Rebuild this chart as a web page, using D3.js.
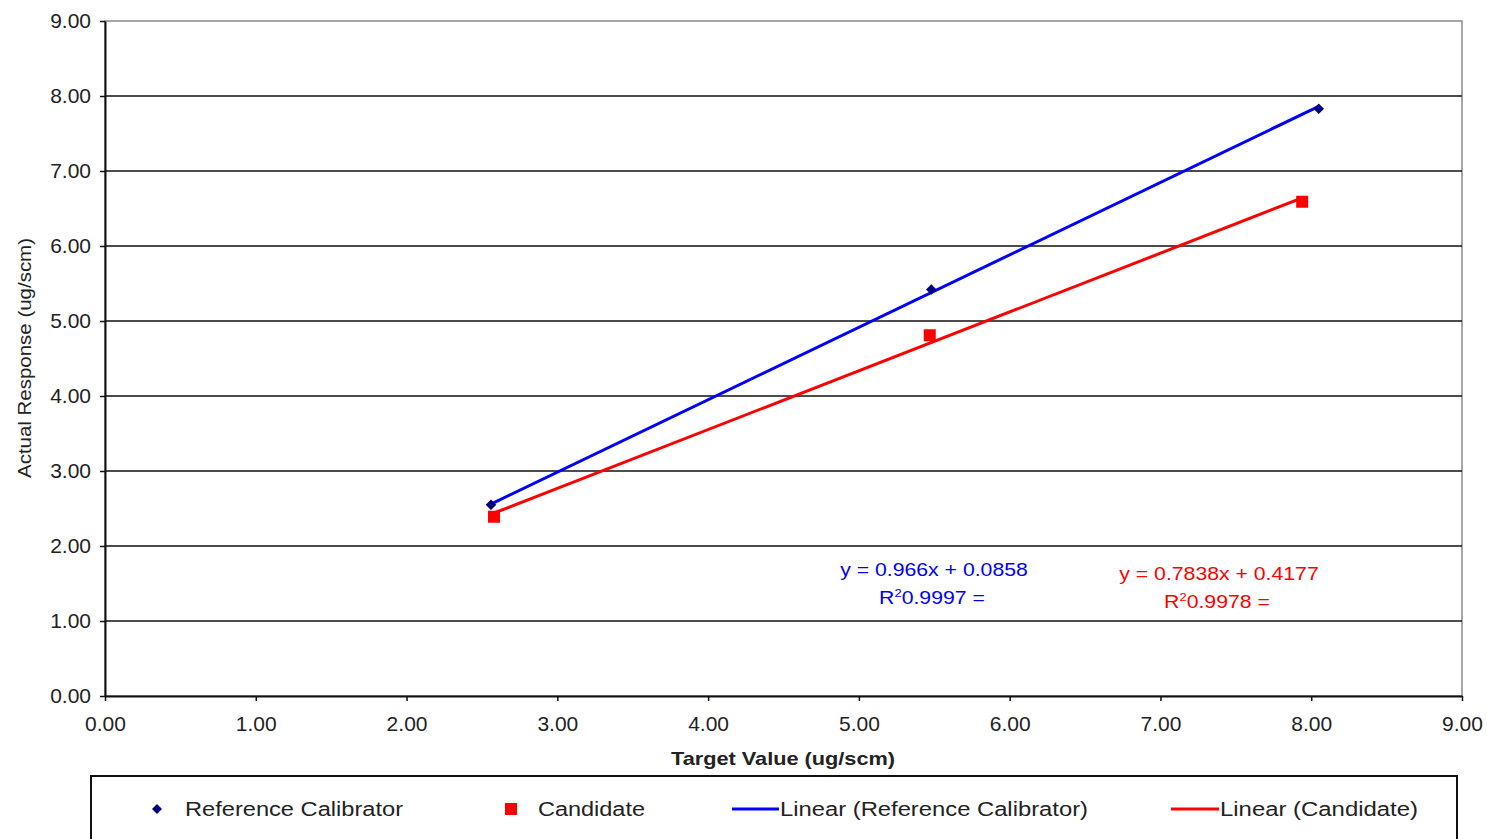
<!DOCTYPE html>
<html>
<head>
<meta charset="utf-8">
<script src="https://cdn.jsdelivr.net/npm/d3@7"></script>
<style>
  body { margin: 0; background: #fff; }
  svg { display: block; font-family: "Liberation Sans", Arial, sans-serif; }
</style>
</head>
<body>
<div id="chart"></div>
<script>
// values
const refX = [2.56, 5.48, 8.05];
const refY = [2.55, 5.42, 7.83];
const candX = [2.58, 5.47, 7.94];
const candY = [2.39, 4.81, 6.59];

const fitSlopes = [0.966, 0.7838];
const fitIntercepts = [0.0858, 0.4177];
const fitEquations = ["y = 0.966x + 0.0858", "y = 0.7838x + 0.4177"];
const fitR2 = ["0.9997 =", "0.9978 ="];

const tickValues = d3.range(0, 10);
const legendLabels = ["Reference Calibrator", "Candidate", "Linear (Reference Calibrator)", "Linear (Candidate)"];

const width = 1487, height = 839;
const margin = { top: 21, right: 25, bottom: 143, left: 105 };

const svg = d3.select("#chart").append("svg")
    .attr("width", width)
    .attr("height", height);

const x = d3.scaleLinear().domain([0, 9]).range([margin.left, width - margin.right]);
const y = d3.scaleLinear().domain([0, 9]).range([height - margin.bottom, margin.top]);
const fmt = d3.format(".2f");

// the source text is a bit wider than Arial, so stretch it sideways
function stretched(cx, cy, sx) {
    return svg.append("text")
        .attr("transform", `translate(${cx},${cy}) scale(${sx},1)`)
        .attr("text-anchor", "middle");
}

// plot frame (grey, like excel)
svg.append("rect")
    .attr("x", x(0)).attr("y", y(9))
    .attr("width", x(9) - x(0)).attr("height", y(0) - y(9))
    .attr("fill", "none")
    .attr("stroke", "#8a8a8a")
    .attr("stroke-width", 1.5);

// horizontal gridlines
svg.append("g")
    .selectAll("line")
    .data(tickValues.filter(d => d > 0 && d < 9))
    .enter().append("line")
    .attr("x1", x(0)).attr("x2", x(9))
    .attr("y1", d => y(d)).attr("y2", d => y(d))
    .attr("stroke", "#111")
    .attr("stroke-width", 1.5);

// axes
const xAxis = svg.append("g")
    .attr("transform", `translate(0,${y(0)})`)
    .call(d3.axisBottom(x).tickValues(tickValues).tickFormat(fmt).tickSize(5).tickSizeOuter(0));
const yAxis = svg.append("g")
    .attr("transform", `translate(${x(0)},0)`)
    .call(d3.axisLeft(y).tickValues(tickValues).tickFormat(fmt).tickSize(5).tickSizeOuter(0));

[xAxis, yAxis].forEach(g => {
    g.select(".domain").attr("stroke", "#111").attr("stroke-width", 2);
    g.selectAll(".tick line").attr("stroke", "#111").attr("stroke-width", 1.5);
    g.selectAll(".tick text")
        .attr("fill", "#222")
        .style("font-size", "21px")
        .style("font-family", "'Liberation Sans', Arial, sans-serif");
});
xAxis.selectAll(".tick text").attr("y", 13).attr("dy", "1.05em");
yAxis.selectAll(".tick text").attr("x", -14);

// axis titles
svg.append("text")
    .attr("x", 671)
    .attr("y", 765)
    .attr("font-weight", "bold")
    .attr("font-size", 19)
    .attr("textLength", 224)
    .attr("lengthAdjust", "spacingAndGlyphs")
    .attr("fill", "#222")
    .text("Target Value (ug/scm)");

svg.append("text")
    .attr("transform", `translate(31,478) rotate(-90)`)
    .attr("font-size", 19)
    .attr("textLength", 240)
    .attr("lengthAdjust", "spacingAndGlyphs")
    .attr("fill", "#222")
    .text("Actual Response (ug/scm)");

// trend lines
const fitColors = ["#0000ff", "#ff0000"];
const fitRanges = [d3.extent(refX), d3.extent(candX)];
svg.append("g")
    .selectAll("line")
    .data([0, 1])
    .enter().append("line")
    .attr("x1", i => x(fitRanges[i][0]))
    .attr("x2", i => x(fitRanges[i][1]))
    .attr("y1", i => y(fitSlopes[i] * fitRanges[i][0] + fitIntercepts[i]))
    .attr("y2", i => y(fitSlopes[i] * fitRanges[i][1] + fitIntercepts[i]))
    .attr("stroke", i => fitColors[i])
    .attr("stroke-width", 3);

// markers
const diamond = d3.symbol().type(d3.symbolSquare).size(56);
svg.append("g")
    .selectAll("path")
    .data(refX.map((d, i) => [d, refY[i]]))
    .enter().append("path")
    .attr("transform", d => `translate(${x(d[0])},${y(d[1])}) rotate(45)`)
    .attr("d", diamond)
    .attr("fill", "#000080");

svg.append("g")
    .selectAll("rect")
    .data(candX.map((d, i) => [d, candY[i]]))
    .enter().append("rect")
    .attr("x", d => x(d[0]) - 6)
    .attr("y", d => y(d[1]) - 6)
    .attr("width", 12).attr("height", 12)
    .attr("fill", "#ff0000");

// equation labels
const eqPos = [[934, 576], [1219, 580]];
eqPos.forEach((p, i) => {
    stretched(p[0], p[1], 1.18)
        .attr("font-size", 18)
        .attr("fill", fitColors[i])
        .text(fitEquations[i]);
    const t = stretched(p[0] - 2, p[1] + 28, 1.18)
        .attr("font-size", 18)
        .attr("fill", fitColors[i]);
    t.append("tspan").text("R");
    t.append("tspan").attr("font-size", 11).attr("dy", -7).text("2");
    t.append("tspan").attr("dy", 7).text(fitR2[i]);
});

// legend
svg.append("rect")
    .attr("x", 91).attr("y", 776)
    .attr("width", 1366).attr("height", 80)
    .attr("fill", "#fff")
    .attr("stroke", "#111")
    .attr("stroke-width", 2);

const legY = 809;
const legItems = svg.append("g");
legItems.append("path")
    .attr("transform", `translate(157,${legY}) rotate(45)`)
    .attr("d", d3.symbol().type(d3.symbolSquare).size(50))
    .attr("fill", "#000080");
legItems.append("rect")
    .attr("x", 505).attr("y", legY - 6)
    .attr("width", 12).attr("height", 12)
    .attr("fill", "#ff0000");
legItems.append("line")
    .attr("x1", 732).attr("x2", 779).attr("y1", legY).attr("y2", legY)
    .attr("stroke", "#0000ff").attr("stroke-width", 3);
legItems.append("line")
    .attr("x1", 1171).attr("x2", 1219).attr("y1", legY).attr("y2", legY)
    .attr("stroke", "#ff0000").attr("stroke-width", 3);

const legX = [185, 538, 780, 1220];
const legW = [218, 107, 308, 198];
legItems.selectAll("text")
    .data(legendLabels)
    .enter().append("text")
    .attr("x", (d, i) => legX[i])
    .attr("y", legY + 7)
    .attr("font-size", 20)
    .attr("textLength", (d, i) => legW[i])
    .attr("lengthAdjust", "spacingAndGlyphs")
    .attr("fill", "#222")
    .text(d => d);
</script>
</body>
</html>
